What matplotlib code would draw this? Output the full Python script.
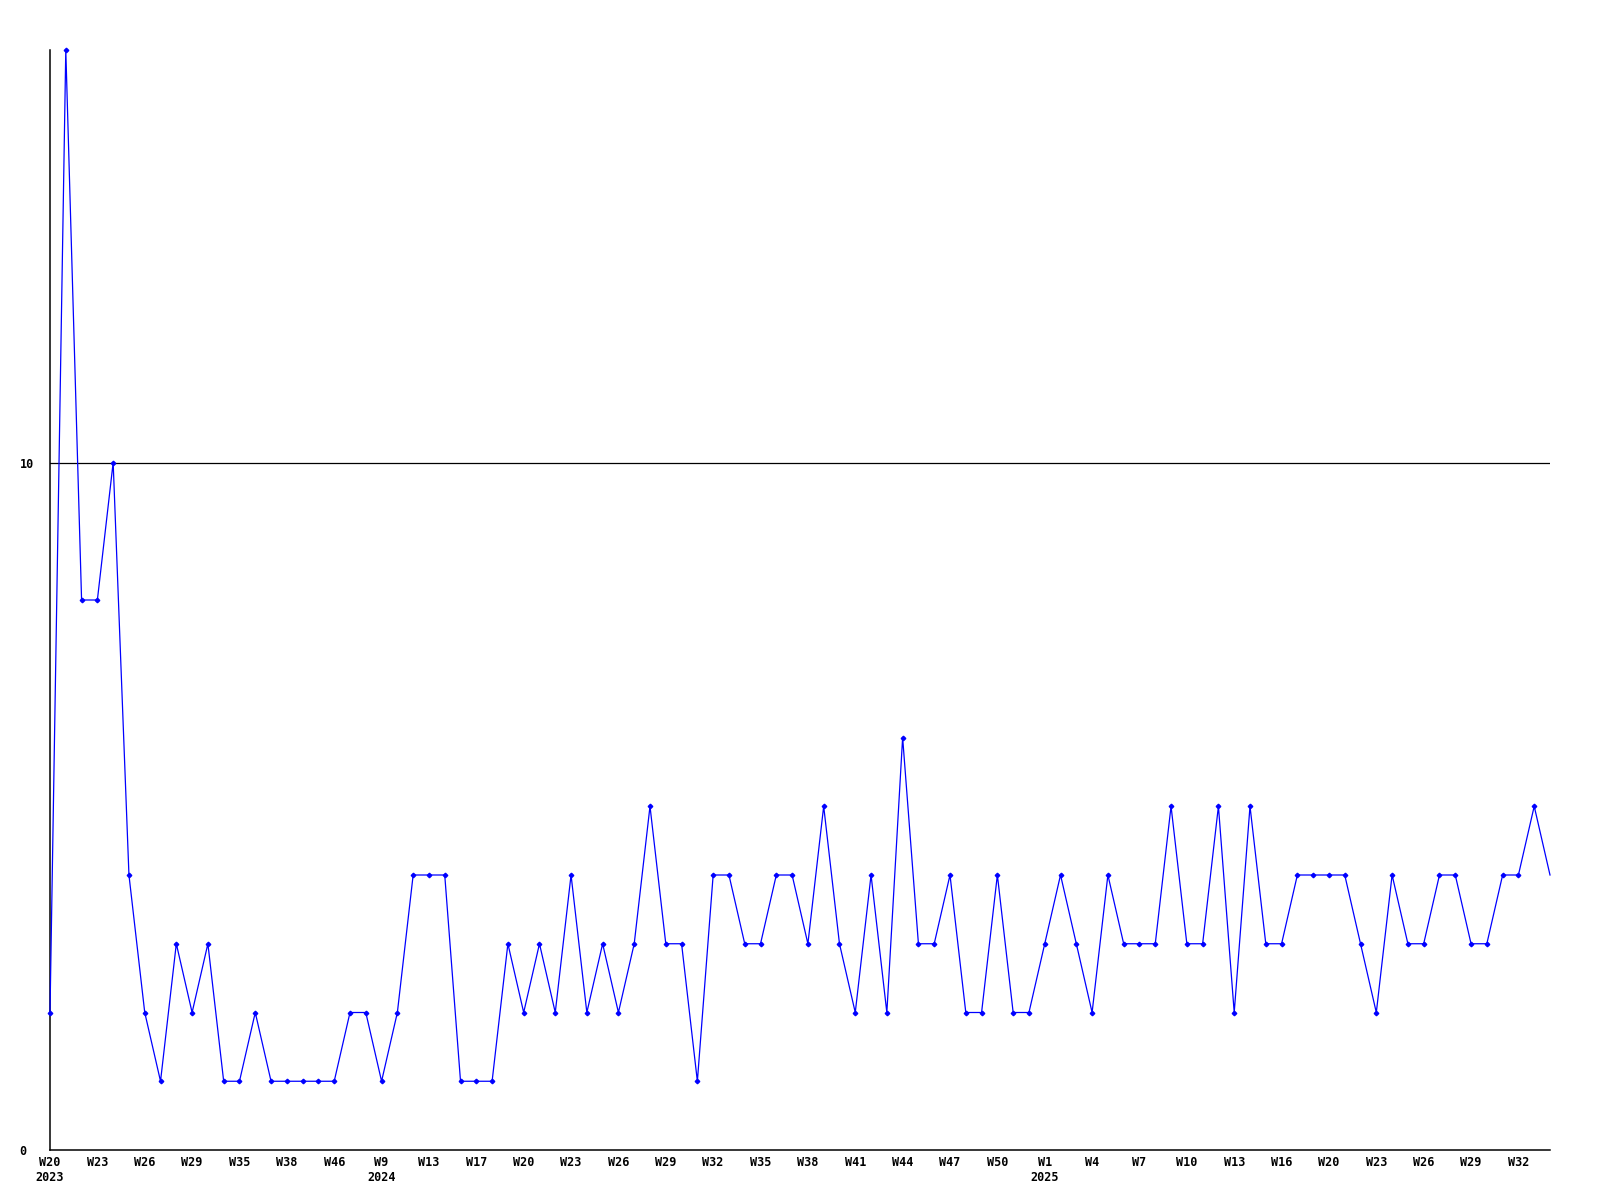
import matplotlib
matplotlib.use("Agg")
import matplotlib.pyplot as plt

# Weekly values (one point per week, categorical x axis)
values = [2, 16, 8, 8, 10, 4, 2, 1, 3, 2,
          3, 1, 1, 2, 1, 1, 1, 1, 1, 2,
          2, 1, 2, 4, 4, 4, 1, 1, 1, 3,
          2, 3, 2, 4, 2, 3, 2, 3, 5, 3,
          3, 1, 4, 4, 3, 3, 4, 4, 3, 5,
          3, 2, 4, 2, 6, 3, 3, 4, 2, 2,
          4, 2, 2, 3, 4, 3, 2, 4, 3, 3,
          3, 5, 3, 3, 5, 2, 5, 3, 3, 4,
          4, 4, 4, 3, 2, 4, 3, 3, 4, 4,
          3, 3, 4, 4, 5, 4]

# Tick labels shown every third point
tick_labels = ["W20\n2023", "W23", "W26", "W29", "W35", "W38", "W46", "W9\n2024",
               "W13", "W17", "W20", "W23", "W26", "W29", "W32", "W35", "W38",
               "W41", "W44", "W47", "W50", "W1\n2025", "W4", "W7", "W10", "W13",
               "W16", "W20", "W23", "W26", "W29", "W32"]
label_step = 3

y_ticks = [0, 10]
y_tick_labels = ["0", "10"]
ref_line = 10

font = {"family": "DejaVu Sans Mono", "weight": "bold", "size": 8.5}

fig = plt.figure(figsize=(16, 12), dpi=100)
ax = fig.add_axes([50 / 1600, 50 / 1200, 1500 / 1600, 1100 / 1200])

x = list(range(len(values)))
ax.plot(x, values, color="#0000FF", lw=0.9, marker="D", markersize=2.3,
        markerfacecolor="#0000FF", markeredgecolor="#0000FF",
        markevery=slice(0, len(values) - 1), clip_on=False, zorder=3)
ax.axhline(ref_line, color="black", lw=0.9, zorder=2)

ax.set_xlim(0, len(values) - 1)
ax.set_ylim(0, 16)

ax.set_xticks(list(range(0, len(values), label_step))[:len(tick_labels)])
ax.set_xticklabels(tick_labels, fontdict=font, linespacing=1.25, va="top")
ax.set_yticks(y_ticks)
ax.set_yticklabels(y_tick_labels, fontdict=font, ha="left")
ax.tick_params(axis="x", length=0, pad=4)
ax.tick_params(axis="y", length=0, pad=22)

for s in ["top", "right"]:
    ax.spines[s].set_visible(False)
for s in ["left", "bottom"]:
    ax.spines[s].set_color("black")
    ax.spines[s].set_linewidth(1.1)

fig.savefig("out.png", dpi=100, facecolor="white")
